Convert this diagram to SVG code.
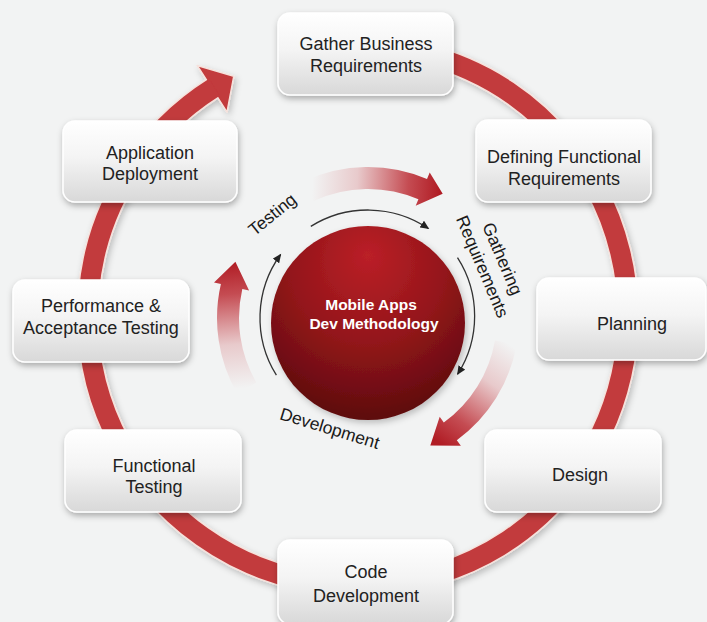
<svg xmlns="http://www.w3.org/2000/svg" width="707" height="622" viewBox="0 0 707 622">
<defs>
<style>
.box{fill:url(#boxg);stroke:#ffffff;stroke-width:1.5;filter:url(#bsh)}
.bt{font-family:"Liberation Sans",Arial,sans-serif;font-size:18px;fill:#222222;text-anchor:middle}
.lbl{font-family:"Liberation Sans",Arial,sans-serif;font-size:17.5px;fill:#1a1a1a;text-anchor:middle}
.ctr{font-family:"Liberation Sans",Arial,sans-serif;font-size:15.5px;font-weight:bold;fill:#ffffff;text-anchor:middle}
.thin{fill:none;stroke:#333;stroke-width:1.3;marker-end:url(#ah)}
</style>
<linearGradient id="boxg" x1="0" y1="0" x2="0" y2="1">
<stop offset="0" stop-color="#ffffff"/>
<stop offset="0.45" stop-color="#f4f4f4"/>
<stop offset="1" stop-color="#d8d8d8"/>
</linearGradient>
<radialGradient id="ball" cx="0.5" cy="0.25" r="0.8" fx="0.5" fy="0.15">
<stop offset="0" stop-color="#bb2027"/>
<stop offset="0.5" stop-color="#93151a"/>
<stop offset="1" stop-color="#560a0c"/>
</radialGradient>
<linearGradient id="gTop" gradientUnits="userSpaceOnUse" x1="312" y1="190" x2="440" y2="195">
<stop offset="0" stop-color="#c0262e" stop-opacity="0"/>
<stop offset="0.35" stop-color="#c0262e" stop-opacity="0.2"/>
<stop offset="0.75" stop-color="#b9222a" stop-opacity="0.8"/>
<stop offset="1" stop-color="#b01c24" stop-opacity="1"/>
</linearGradient>
<linearGradient id="gRight" gradientUnits="userSpaceOnUse" x1="506" y1="342" x2="435" y2="440">
<stop offset="0" stop-color="#c0262e" stop-opacity="0"/>
<stop offset="0.35" stop-color="#c0262e" stop-opacity="0.2"/>
<stop offset="0.75" stop-color="#b9222a" stop-opacity="0.8"/>
<stop offset="1" stop-color="#b01c24" stop-opacity="1"/>
</linearGradient>
<linearGradient id="gLeft" gradientUnits="userSpaceOnUse" x1="246" y1="388" x2="235" y2="262">
<stop offset="0" stop-color="#c0262e" stop-opacity="0"/>
<stop offset="0.35" stop-color="#c0262e" stop-opacity="0.2"/>
<stop offset="0.75" stop-color="#b9222a" stop-opacity="0.8"/>
<stop offset="1" stop-color="#b01c24" stop-opacity="1"/>
</linearGradient>
<filter id="bsh" x="-20%" y="-20%" width="140%" height="160%">
<feDropShadow dx="1" dy="3" stdDeviation="3" flood-color="#000" flood-opacity="0.3"/>
</filter>
<filter id="rsh" x="-10%" y="-10%" width="120%" height="120%">
<feDropShadow dx="2" dy="3" stdDeviation="3" flood-color="#000" flood-opacity="0.22"/>
</filter>
<marker id="ah" markerUnits="userSpaceOnUse" markerWidth="10" markerHeight="8" refX="8" refY="4" orient="auto">
<path d="M0,0 L9,4 L0,8 Z" fill="#222"/>
</marker>
</defs>
<rect x="0" y="0" width="707" height="622" fill="#f2f3f3"/>

<g id="connectors">
<g id="outer-ring" filter="url(#rsh)">
<path d="M 311.1 50.1 A 270 270 0 1 1 212.1 88.8" fill="none" stroke="#f6e2dc" stroke-width="23"/>
<polygon points="197.2,65.5 233.8,76.2 227.0,112.2" fill="#c23a3c" stroke="#f6e2dc" stroke-width="1.5" stroke-linejoin="round"/>
<path d="M 311.1 50.1 A 270 270 0 1 1 214.4 87.3" fill="none" stroke="#c23a3c" stroke-width="20"/>
</g>
<g id="inner-arrows">
<path d="M 304.2 181.1 A 151 151 0 0 1 427.0 179.0 L 429.7 172.6 L 442.7 193.7 L 415.7 205.7 L 418.4 199.3 A 129 129 0 0 0 313.5 201.1 Z" fill="url(#gTop)"/>
<path d="M 516.7 344.2 A 151 151 0 0 1 456.8 440.2 L 460.9 445.8 L 430.3 445.6 L 439.7 416.7 L 443.8 422.4 A 129 129 0 0 0 495.0 340.4 Z" fill="url(#gRight)"/>
<path d="M 237.2 393.5 A 151 151 0 0 1 220.9 284.0 L 214.0 282.5 L 235.4 261.7 L 249.1 290.6 L 242.3 289.0 A 129 129 0 0 0 256.3 382.5 Z" fill="url(#gLeft)"/>
</g>
<g id="thin-arcs">
<path class="thin" d="M 310.8 226.4 A 108 108 0 0 1 428.4 228.5"/>
<path class="thin" d="M 457.5 257.6 A 108 108 0 0 1 457.6 374.2"/>
<path class="thin" d="M 276.4 375.2 A 108 108 0 0 1 280.6 254.5"/>
</g>
</g>

<g id="center">
<circle cx="368" cy="323" r="97" fill="url(#ball)" filter="url(#rsh)"/>
<text class="ctr" x="371" y="310">Mobile Apps</text>
<text class="ctr" x="374" y="329">Dev Methodology</text>
</g>

<g id="label-testing"><text class="lbl" transform="translate(276,219) rotate(-39)">Testing</text></g>
<g id="label-gathering">
<text class="lbl" transform="translate(497,261) rotate(67)">Gathering</text>
<text class="lbl" transform="translate(477,269) rotate(67)">Requirements</text>
</g>
<g id="label-development"><text class="lbl" transform="translate(328,434) rotate(17)">Development</text></g>

<g id="n1"><rect class="box" x="278" y="13" width="175" height="82" rx="12"/>
<text class="bt" x="366" y="50">Gather Business</text><text class="bt" x="366" y="72">Requirements</text></g>
<g id="n2"><rect class="box" x="476" y="120" width="175" height="82" rx="12"/>
<text class="bt" x="564" y="163">Defining Functional</text><text class="bt" x="564" y="185">Requirements</text></g>
<g id="n3"><rect class="box" x="537" y="278" width="169" height="82" rx="12"/>
<text class="bt" x="632" y="330">Planning</text></g>
<g id="n4"><rect class="box" x="485" y="430" width="176" height="82" rx="12"/>
<text class="bt" x="580" y="481">Design</text></g>
<g id="n5"><rect class="box" x="278" y="540" width="175" height="84" rx="12"/>
<text class="bt" x="366" y="578">Code</text><text class="bt" x="366" y="602">Development</text></g>
<g id="n6"><rect class="box" x="65" y="430" width="176" height="82" rx="12"/>
<text class="bt" x="154" y="472">Functional</text><text class="bt" x="154" y="493">Testing</text></g>
<g id="n7"><rect class="box" x="13" y="280" width="176" height="82" rx="12"/>
<text class="bt" x="101" y="312">Performance &amp;</text><text class="bt" x="101" y="334">Acceptance Testing</text></g>
<g id="n8"><rect class="box" x="63" y="121" width="174" height="81" rx="12"/>
<text class="bt" x="150" y="159">Application</text><text class="bt" x="150" y="180">Deployment</text></g>
</svg>
